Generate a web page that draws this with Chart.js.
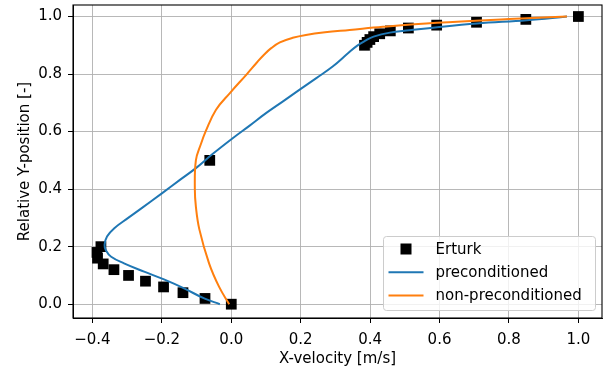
<!DOCTYPE html>
<html>
<head>
<meta charset="utf-8">
<script src="https://cdn.jsdelivr.net/npm/chart.js@4"></script>
<style>
  body { margin: 0; background: #fff; overflow: hidden; }
  #wrap { width: 607px; height: 372px; position: relative; }
</style>
</head>
<body>
<div id="wrap"><canvas id="myChart"></canvas></div>
<script>
'use strict';

// Erturk reference data (vertical centerline)
const erturkX = [1.0, 0.8486, 0.7065, 0.5917, 0.5102, 0.4582, 0.4276, 0.4101, 0.3993, 0.3913, 0.3838,
    -0.0620, -0.3756, -0.3869, -0.3854, -0.3690, -0.3381, -0.2960, -0.2472, -0.1951, -0.1392, -0.0757, 0.0];
const erturkY = [1.0, 0.99, 0.98, 0.97, 0.96, 0.95, 0.94, 0.93, 0.92, 0.91, 0.90,
    0.50, 0.20, 0.18, 0.16, 0.14, 0.12, 0.10, 0.08, 0.06, 0.04, 0.02, 0.0];

// preconditioned solver
const precX = [-0.033, -0.078, -0.136, -0.194, -0.251, -0.309, -0.346, -0.361, -0.365, -0.358, -0.337,
    -0.298, -0.259, -0.199, -0.148, -0.102, -0.054, 0.004, 0.052, 0.100, 0.150, 0.197, 0.245, 0.293,
    0.337, 0.362, 0.385, 0.410, 0.457, 0.513, 0.593, 0.709, 0.852, 0.967];
const precY = [0.0, 0.020, 0.055, 0.086, 0.113, 0.142, 0.165, 0.187, 0.206, 0.235, 0.264,
    0.299, 0.333, 0.386, 0.432, 0.473, 0.522, 0.577, 0.620, 0.664, 0.706, 0.746, 0.786, 0.827,
    0.873, 0.898, 0.915, 0.930, 0.944, 0.952, 0.963, 0.976, 0.987, 1.0];

// non-preconditioned solver
const nonPrecX = [-0.006, -0.035, -0.064, -0.092, -0.102, -0.105, -0.102, -0.088, -0.073, -0.044, -0.004,
    0.045, 0.075, 0.095, 0.115, 0.140, 0.177, 0.215, 0.270, 0.341, 0.437, 0.592, 0.800, 0.967];
const nonPrecY = [0.0, 0.060, 0.142, 0.260, 0.339, 0.400, 0.500, 0.555, 0.603, 0.676, 0.734,
    0.800, 0.842, 0.868, 0.890, 0.910, 0.926, 0.936, 0.945, 0.953, 0.964, 0.978, 0.991, 1.0];

const xTicks = [-0.4, -0.2, 0.0, 0.2, 0.4, 0.6, 0.8, 1.0];
const yTicks = [0.0, 0.2, 0.4, 0.6, 0.8, 1.0];

const FONT = "'DejaVu Sans', sans-serif";

function toPoints(xs, ys) {
    return xs.map((x, i) => ({ x: x, y: ys[i] }));
}

function tickLabel(v) {
    const s = Math.abs(v).toFixed(1);
    return v < -1e-9 ? '\u2212' + s : s;
}

// spines on top of the lines, like matplotlib
const spinesPlugin = {
    id: 'spines',
    afterDatasetsDraw(chart) {
        const a = chart.chartArea;
        const ctx = chart.ctx;
        ctx.save();
        ctx.strokeStyle = '#000';
        ctx.lineWidth = 1.1;
        ctx.strokeRect(a.left, a.top, a.right - a.left, a.bottom - a.top);
        ctx.restore();
    }
};

// legend box inside the plot, lower right
const legendPlugin = {
    id: 'boxLegend',
    afterDraw(chart) {
        const a = chart.chartArea;
        const ctx = chart.ctx;
        const w = 212, h = 74;
        const x0 = a.right - 7 - w + 0.5;
        const y0 = a.bottom - 8 - h + 0.5;
        ctx.save();
        ctx.beginPath();
        ctx.roundRect(x0, y0, w, h, 3);
        ctx.fillStyle = 'rgba(255,255,255,0.8)';
        ctx.fill();
        ctx.strokeStyle = '#cccccc';
        ctx.lineWidth = 1;
        ctx.stroke();

        ctx.font = '15px ' + FONT;
        ctx.textBaseline = 'middle';
        chart.data.datasets.forEach((ds, i) => {
            const y = y0 + 12.5 + i * 23.3;
            if (ds.showLine) {
                ctx.strokeStyle = ds.borderColor;
                ctx.lineWidth = 2;
                ctx.beginPath();
                ctx.moveTo(x0 + 5, y);
                ctx.lineTo(x0 + 40, y);
                ctx.stroke();
            } else {
                ctx.fillStyle = ds.backgroundColor;
                ctx.fillRect(x0 + 17, y - 5.5, 11, 11);
            }
            ctx.fillStyle = '#000';
            ctx.fillText(ds.label, x0 + 52, y + 1);
        });
        ctx.restore();
    }
};

var ctx = document.getElementById('myChart').getContext('2d');
var chart = new Chart(ctx, {
    type: 'scatter',
    data: {
        datasets: [{
            label: 'Erturk',
            data: toPoints(erturkX, erturkY),
            showLine: false,
            pointStyle: 'rect',
            pointRadius: 7.6,
            backgroundColor: '#000',
            borderWidth: 0,
            order: 3
        }, {
            label: 'preconditioned',
            data: toPoints(precX, precY),
            showLine: true,
            borderColor: '#1f77b4',
            borderWidth: 2,
            pointRadius: 0,
            tension: 0.4,
            order: 2
        }, {
            label: 'non-preconditioned',
            data: toPoints(nonPrecX, nonPrecY),
            showLine: true,
            borderColor: '#ff7f0e',
            borderWidth: 2,
            pointRadius: 0,
            tension: 0.4,
            order: 1
        }]
    },
    options: {
        responsive: true,
        maintainAspectRatio: false,
        animation: false,
        layout: { autoPadding: false, padding: { top: 5, right: 5, left: 0, bottom: 0 } },
        plugins: {
            legend: { display: false },
            tooltip: { enabled: false }
        },
        scales: {
            x: {
                type: 'linear',
                min: -0.456,
                max: 1.068,
                afterBuildTicks: (scale) => { scale.ticks = xTicks.map(v => ({ value: v })); },
                afterFit: (scale) => {
                    scale.height = 54;
                    scale.paddingLeft = 0;
                    scale.paddingRight = 0;
                },
                grid: { color: '#b0b0b0', lineWidth: 0.9, tickColor: '#000', tickLength: 5, tickWidth: 1 },
                border: { color: '#000', width: 1 },
                ticks: {
                    color: '#000',
                    padding: 8,
                    font: { family: FONT, size: 15 },
                    callback: (v) => tickLabel(v)
                },
                title: {
                    display: true,
                    text: 'X-velocity [m/s]',
                    color: '#000',
                    font: { family: FONT, size: 15 },
                    padding: { top: 0, bottom: 4 }
                }
            },
            y: {
                type: 'linear',
                min: -0.048,
                max: 1.04,
                afterBuildTicks: (scale) => { scale.ticks = yTicks.map(v => ({ value: v })); },
                afterFit: (scale) => {
                    scale.width = 73;
                    scale.paddingTop = 0;
                    scale.paddingBottom = 0;
                },
                grid: { color: '#b0b0b0', lineWidth: 0.9, tickColor: '#000', tickLength: 5, tickWidth: 1 },
                border: { color: '#000', width: 1 },
                ticks: {
                    color: '#000',
                    padding: 6,
                    font: { family: FONT, size: 15 },
                    callback: (v) => tickLabel(v)
                },
                title: {
                    display: true,
                    text: 'Relative Y-position [-]',
                    color: '#000',
                    font: { family: FONT, size: 15 },
                    padding: { top: 16, bottom: 0 }
                }
            }
        }
    },
    plugins: [spinesPlugin, legendPlugin]
});
</script>
</body>
</html>
